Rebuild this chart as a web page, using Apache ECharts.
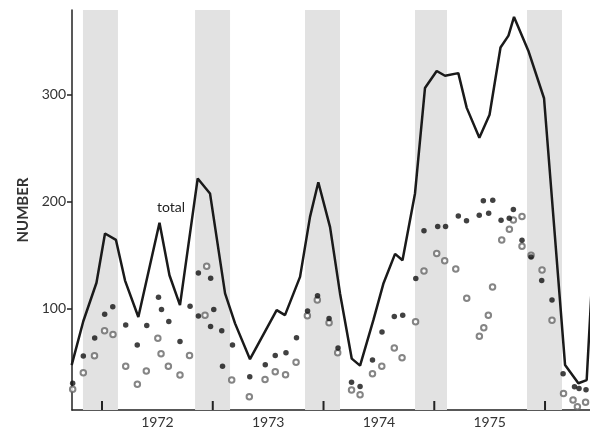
<!DOCTYPE html>
<html>
<head>
<meta charset="utf-8">
<script src="https://cdn.jsdelivr.net/npm/echarts@6/dist/echarts.min.js"></script>
<style>
html,body{margin:0;padding:0;background:#fff;}
#chart{width:590px;height:431px;}
</style>
</head>
<body>
<div id="chart"></div>
<script>
// ---- Data (x in decimal years) ----
const yearTicks = [1972, 1973, 1974, 1975, 1976];
const yearLabels = ['1972', '1973', '1974', '1975'];
const yTicks = [100, 200, 300];
const yMin = 5, yMax = 379;

// winter shading (start, end)
const bandStart = [1971.828, 1972.840, 1973.833, 1974.826, 1975.837];
const bandEnd   = [1972.144, 1973.156, 1974.149, 1975.115, 1976.153];

// total line
const totalX = [1971.726, 1971.831, 1971.950, 1972.027, 1972.126, 1972.208, 1972.328, 1972.519, 1972.609, 1972.704,
  1972.864, 1972.975, 1973.111, 1973.201, 1973.336, 1973.577, 1973.652, 1973.788, 1973.878, 1973.953,
  1974.059, 1974.149, 1974.255, 1974.330, 1974.450, 1974.540, 1974.646, 1974.713, 1974.826, 1974.916,
  1975.022, 1975.097, 1975.217, 1975.293, 1975.407, 1975.499, 1975.598, 1975.670, 1975.720, 1975.849,
  1975.991, 1976.181, 1976.301, 1976.376, 1976.424];
const totalY = [47, 88, 124, 170, 164, 126, 92, 180, 131, 103,
  221.5, 207.5, 114, 86, 52.5, 98.4, 93.7, 129.5, 185.6, 218,
  176, 114, 53, 46.5, 89, 123, 151, 145, 207.5, 306,
  322, 317.5, 320, 287.5, 259.5, 281, 344, 355, 372.5, 341,
  296.5, 47, 30, 33, 125];

// filled dots
const filledX = [1971.735, 1971.831, 1971.934, 1972.024, 1972.097, 1972.214, 1972.318, 1972.404, 1972.510, 1972.537,
  1972.603, 1972.704, 1972.795, 1972.870, 1972.870, 1972.981, 1973.009, 1972.980, 1973.081, 1973.088,
  1973.178, 1973.334, 1973.474, 1973.564, 1973.661, 1973.756, 1973.856, 1973.946, 1974.050, 1974.131,
  1974.253, 1974.330, 1974.442, 1974.528, 1974.639, 1974.715, 1974.833, 1974.907, 1975.031, 1975.102,
  1975.217, 1975.291, 1975.406, 1975.443, 1975.491, 1975.528, 1975.603, 1975.677, 1975.714, 1975.792,
  1975.874, 1975.970, 1976.063, 1976.163, 1976.266, 1976.307, 1976.370];
const filledY = [30, 55.4, 72.3, 94.5, 101.5, 84.4, 65.7, 84, 110.5, 99,
  87.8, 69, 102, 133, 93, 128.3, 99, 83, 79, 46,
  65.7, 36, 47.4, 56, 58.5, 72.5, 97.5, 111.8, 90.6, 63,
  31, 27, 51.7, 78, 92.5, 93.7, 128, 172.5, 176.5, 176.5,
  186.5, 182, 187, 200.6, 189, 201, 182.5, 184.3, 192.5, 163.8,
  148, 126, 107.8, 39, 26.7, 25, 24];

// open circles
const openX = [1971.735, 1971.831, 1971.932, 1972.023, 1972.099, 1972.214, 1972.319, 1972.400, 1972.504, 1972.533,
  1972.599, 1972.704, 1972.790, 1972.930, 1972.945, 1973.171, 1973.330, 1973.472, 1973.564, 1973.657,
  1973.752, 1973.854, 1973.944, 1974.050, 1974.128, 1974.253, 1974.330, 1974.442, 1974.526, 1974.639,
  1974.709, 1974.831, 1974.907, 1975.022, 1975.094, 1975.194, 1975.293, 1975.407, 1975.447, 1975.488,
  1975.526, 1975.609, 1975.678, 1975.714, 1975.792, 1975.792, 1975.874, 1975.973, 1976.063, 1976.167,
  1976.253, 1976.292, 1976.366];
const openY = [24.3, 39.8, 55.7, 79, 75.5, 46, 29, 41.5, 72, 57.5,
  46, 37.7, 56, 93.5, 139.5, 33, 17.4, 33.6, 40.7, 38,
  49.7, 93.2, 107.8, 86.5, 58.5, 23.6, 19.3, 39, 46, 63,
  53.8, 87.5, 135, 151.4, 144.5, 136.8, 109.5, 74, 82, 93.5,
  120, 164, 174, 182.7, 186, 158, 149.8, 135.8, 89, 20.5,
  14.3, 8, 12.3];

const zip = (xs, ys) => xs.map((x, i) => [x, ys[i]]);
const FONT = 'Lato, "Open Sans", sans-serif';

const chart = echarts.init(document.getElementById('chart'), null, {renderer: 'canvas'});
chart.setOption({
  animation: false,
  backgroundColor: '#fff',
  grid: {left: 72, right: 0, top: 10, bottom: 21, containLabel: false},
  xAxis: {
    type: 'value',
    min: 1971.729,
    max: 1976.406,
    axisLine: {show: true, onZero: false, lineStyle: {color: '#222', width: 1.5}},
    axisTick: {show: false},
    axisLabel: {
      show: true,
      customValues: yearLabels.map(y => Number(y) + 0.5),
      formatter: v => String(Math.floor(v)),
      color: '#333', fontFamily: FONT, fontSize: 14, margin: 5
    },
    splitLine: {show: false}
  },
  yAxis: {
    type: 'value',
    min: yMin,
    max: yMax,
    name: 'NUMBER',
    nameLocation: 'middle',
    nameGap: 41,
    nameRotate: 90,
    nameTextStyle: {color: '#333', fontFamily: FONT, fontSize: 15, fontWeight: 'bold'},
    axisLine: {show: true, lineStyle: {color: '#222', width: 1.5}},
    axisTick: {show: true, length: 5, customValues: yTicks, lineStyle: {color: '#222', width: 1.5}},
    axisLabel: {show: true, customValues: yTicks, color: '#333', fontFamily: FONT, fontSize: 14, margin: 6},
    splitLine: {show: false}
  },
  graphic: [{
    type: 'text', left: 157, top: 200,
    style: {text: 'total', fill: '#222', font: '14px ' + FONT}
  }],
  series: [
    {
      type: 'line',
      data: zip(totalX, totalY),
      showSymbol: false,
      clip: true,
      lineStyle: {color: '#1a1a1a', width: 2.5},
      z: 3,
      markArea: {
        silent: true,
        itemStyle: {color: '#e2e2e2'},
        data: bandStart.map((s, i) => [{xAxis: s}, {xAxis: bandEnd[i]}])
      }
    },
    {
      type: 'scatter',
      data: zip(openX, openY),
      symbol: 'emptyCircle',
      symbolSize: 5.5,
      itemStyle: {color: '#666', borderWidth: 1.2},
      z: 4
    },
    {
      type: 'scatter',
      data: zip(filledX, filledY),
      symbol: 'circle',
      symbolSize: 5.5,
      itemStyle: {color: '#111'},
      z: 5
    },
    {
      // year ticks (inside, at Jan 1) drawn through the axis scale
      type: 'custom',
      data: yearTicks.map(y => [y]),
      silent: true,
      clip: false,
      z: 10,
      renderItem: (params, api) => {
        const p = api.coord([api.value(0), yMin]);
        return {
          type: 'line',
          shape: {x1: p[0], y1: p[1], x2: p[0], y2: p[1] - 9},
          style: {stroke: '#222', lineWidth: 2}
        };
      }
    }
  ]
});
</script>
</body>
</html>
